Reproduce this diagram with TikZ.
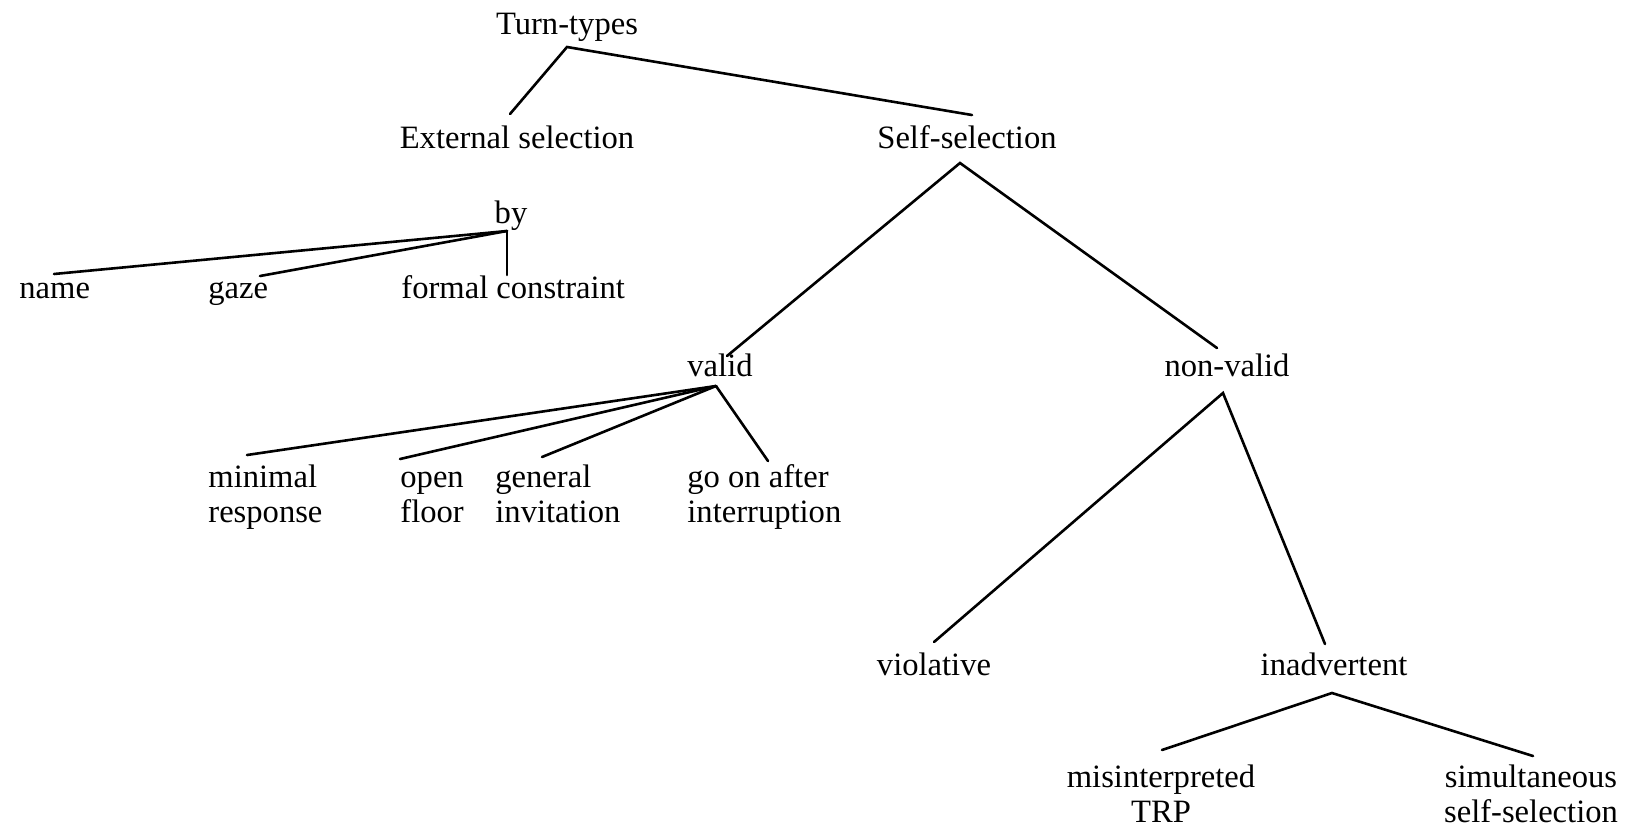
\documentclass[tikz,border=0pt]{standalone}
\usepackage{fontspec}
\setmainfont{Liberation Serif}
\begin{document}
\begin{tikzpicture}[x=0.5pt,y=-0.5pt,
  font=\fontsize{16.3}{17.6}\selectfont,
  lbl/.style={inner sep=0pt,anchor=base},
  lblw/.style={inner sep=0pt,anchor=base west},
  branch/.style={line width=1.3pt,line cap=round}]
\useasboundingbox[fill=white] (0,0) rectangle (1628,832);
% nodes
\node[lbl] (turn) at (567,34) {Turn-types};
\node[lbl] (ext) at (517,148) {External selection};
\node[lbl] (self) at (967,148) {Self-selection};
\node[lbl] (by) at (511,223) {by};
\node[lblw] (name) at (19,298) {name};
\node[lblw] (gaze) at (208,298) {gaze};
\node[lblw] (formal) at (401,298) {formal constraint};
\node[lbl] (valid) at (720,376) {valid};
\node[lbl] (nonvalid) at (1227,376) {non-valid};
\node[lblw] (minimal) at (208,487) {\begin{tabular}[t]{@{}l@{}}minimal\\response\end{tabular}};
\node[lblw] (open) at (400,487) {\begin{tabular}[t]{@{}l@{}}open\\floor\end{tabular}};
\node[lblw] (general) at (495,487) {\begin{tabular}[t]{@{}l@{}}general\\invitation\end{tabular}};
\node[lblw] (goon) at (687,487) {\begin{tabular}[t]{@{}l@{}}go on after\\interruption\end{tabular}};
\node[lbl] (violative) at (934,675) {violative};
\node[lbl] (inadv) at (1334,675) {inadvertent};
\node[lbl] (misint) at (1161,787) {\begin{tabular}[t]{@{}c@{}}misinterpreted\\TRP\end{tabular}};
\node[lbl] (simult) at (1531,787) {\begin{tabular}[t]{@{}c@{}}simultaneous\\self-selection\end{tabular}};
% connectors
\draw[branch] ([shift={(-7,-34)}]ext.base) -- ([shift={(0,13)}]turn.base) -- ([shift={(5,-33)}]self.base);
\draw[branch] ([shift={(7,-20)}]valid.base) -- ([shift={(-7,15)}]self.base) -- ([shift={(-10,-28)}]nonvalid.base);
\draw[branch] ([shift={(-4,8)}]by.base) -- ([shift={(35,-24)}]name.base west);
\draw[branch] ([shift={(-4,8)}]by.base) -- ([shift={(52,-22)}]gaze.base west);
\draw[branch] ([shift={(-4,8)}]by.base) -- ([shift={(106,-23)}]formal.base west);
\draw[branch] ([shift={(-4,10)}]valid.base) -- ([shift={(39,-32)}]minimal.base west);
\draw[branch] ([shift={(-4,10)}]valid.base) -- ([shift={(0,-28)}]open.base west);
\draw[branch] ([shift={(-4,10)}]valid.base) -- ([shift={(47,-30)}]general.base west);
\draw[branch] ([shift={(-4,10)}]valid.base) -- ([shift={(81,-26)}]goon.base west);
\draw[branch] ([shift={(0,-33)}]violative.base) -- ([shift={(-4,17)}]nonvalid.base) -- ([shift={(-9,-31)}]inadv.base);
\draw[branch] ([shift={(1,-37)}]misint.base) -- ([shift={(-2,18)}]inadv.base) -- ([shift={(2,-31)}]simult.base);
\end{tikzpicture}
\end{document}
